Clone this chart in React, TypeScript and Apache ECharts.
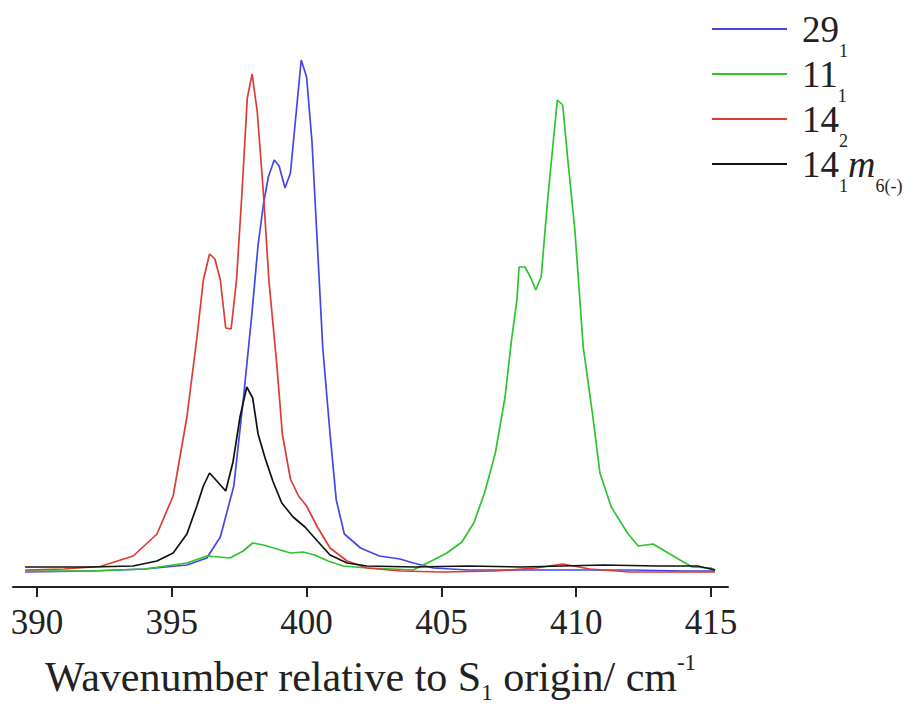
import React, { useEffect, useRef } from "react";
import * as echarts from "echarts";

// Wavenumber (cm-1) and intensity (arb. units)
const blueX = [389.56, 392, 394, 395.56, 396.3, 396.8, 397.3, 397.65, 397.97, 398.2, 398.4, 398.58, 398.8, 398.98, 399.2, 399.4, 399.57, 399.8, 400.0, 400.2, 400.4, 400.6, 400.87, 401.1, 401.4, 402.0, 402.7, 403.46, 403.96, 404.7, 406, 408, 410, 412, 414, 415.15];
const blueY = [15, 16, 18, 22, 29, 50, 101, 187, 273, 342, 383, 410, 427, 421, 399, 414, 462, 527, 510, 445, 342, 239, 153, 87, 53, 39, 31, 28, 24, 19, 17, 17, 17, 17, 16, 16];

const greenX = [389.56, 392, 394, 395.56, 396.3, 397.16, 397.65, 398.0, 398.4, 398.9, 399.4, 399.87, 400.3, 400.8, 401.35, 402.24, 403.2, 403.95, 404.7, 405.2, 405.76, 406.2, 406.6, 407.0, 407.36, 407.6, 407.8, 407.88, 408.1, 408.3, 408.5, 408.7, 408.95, 409.3, 409.5, 409.7, 409.95, 410.26, 410.6, 410.88, 411.3, 411.9, 412.3, 412.85, 413.35, 413.85, 414.3, 415.0, 415.15];
const greenY = [16, 16, 18, 24, 31, 29, 36, 44, 42, 38, 34, 35, 32, 26, 21, 19, 18, 17, 27, 34, 45, 64, 94, 134, 190, 247, 287, 320, 320, 310, 297, 310, 390, 487, 482, 424, 357, 240, 174, 114, 80, 54, 41, 43, 35, 27, 20, 19, 17];

const redX = [389.56, 391.0, 392.34, 393.57, 394.45, 395.05, 395.56, 395.93, 396.17, 396.4, 396.6, 396.8, 397.0, 397.2, 397.4, 397.6, 397.8, 397.98, 398.17, 398.4, 398.6, 398.9, 399.1, 399.4, 399.7, 400.0, 400.4, 400.87, 401.5, 402.24, 403.5, 405, 407, 408.5, 409.5, 410.5, 412, 414, 415.15];
const redY = [17, 18, 20.5, 31, 53, 91, 170, 249, 307, 333, 328, 307, 259, 258, 307, 393, 489, 513, 475, 393, 307, 221, 153, 108, 91, 81, 60, 39, 26, 19, 16, 15, 16, 19, 23, 18, 15, 15, 15];

const blackX = [389.56, 392, 393.56, 394.45, 395.05, 395.56, 395.93, 396.17, 396.4, 396.67, 397.0, 397.27, 397.53, 397.78, 398.0, 398.2, 398.46, 398.76, 399.08, 399.5, 399.94, 400.4, 400.87, 401.5, 402.24, 404, 406, 408, 409.5, 411, 413, 414.5, 415.15];
const blackY = [20, 20, 21, 26, 34, 53, 81, 101, 114, 106, 96, 125, 170, 200, 189, 153, 129, 105, 84, 70, 60, 46, 32, 24, 21, 20, 21, 20, 21, 22, 21, 21, 17];

const tickValues = [390, 395, 400, 405, 410, 415];
const seriesNames = ["29_1", "11_1", "14_2", "14_1m_6(-)"];
const legendLabels: Record<string, string> = {
  "29_1": "{f|29}{s|1}",
  "11_1": "{f|11}{s|1}",
  "14_2": "{f|14}{s|2}",
  "14_1m_6(-)": "{f|14}{s|1}{i|m}{s|6(-)}",
};
const colors = ["#4646e6", "#2ec42e", "#dc3c32", "#111111"];

const zip = (xs: number[], ys: number[]) => xs.map((x, i) => [x, ys[i]]);

export default function App() {
  const ref = useRef<HTMLDivElement>(null);
  useEffect(() => {
    if (!ref.current) return;
    const chart = echarts.init(ref.current, null, { renderer: "svg" });
    const serif = "Liberation Serif";
    const data = [zip(blueX, blueY), zip(greenX, greenY), zip(redX, redY), zip(blackX, blackY)];
    chart.setOption({
      animation: false,
      backgroundColor: "#ffffff",
      grid: { left: 13, right: 188, top: 47, bottom: 131, containLabel: false },
      legend: {
        orient: "vertical",
        left: 707,
        top: -7,
        itemWidth: 75,
        itemHeight: 2,
        itemGap: -17,
        icon: "rect",
        selectedMode: false,
        data: seriesNames,
        formatter: (name: string) => legendLabels[name],
        textStyle: {
          fontFamily: serif,
          color: "#222",
          rich: {
            f: { fontFamily: serif, fontSize: 37, lineHeight: 44, color: "#222", padding: [0, 0, 0, 10] },
            s: { fontFamily: serif, fontSize: 18, lineHeight: 18, color: "#222", padding: [44, 0, 0, 0] },
            i: { fontFamily: serif, fontSize: 38, lineHeight: 44, fontStyle: "italic", color: "#222" },
          },
        },
      },
      xAxis: {
        type: "value",
        min: 389.11,
        max: 415.63,
        name: "{n|Wavenumber relative to S}{s|1}{n| origin/ cm}{p|-1}",
        nameLocation: "middle",
        nameGap: 66,
        nameTextStyle: {
          fontFamily: serif,
          color: "#222",
          rich: {
            n: { fontFamily: serif, fontSize: 42, lineHeight: 48, color: "#222" },
            s: { fontFamily: serif, fontSize: 23, lineHeight: 23, color: "#222", padding: [30, 0, 0, 0] },
            p: { fontFamily: serif, fontSize: 23, lineHeight: 23, color: "#222", padding: [0, 0, 30, 0] },
          },
        },
        axisLine: { show: true, onZero: false, lineStyle: { color: "#222", width: 2 } },
        axisTick: { show: true, customValues: tickValues, length: 10, lineStyle: { color: "#222", width: 2 } },
        axisLabel: { show: true, customValues: tickValues, margin: 18, fontFamily: serif, fontSize: 35, color: "#222" },
        splitLine: { show: false },
      },
      yAxis: {
        type: "value",
        min: 0,
        max: 540,
        show: false,
      },
      series: seriesNames.map((name, i) => ({
        name,
        type: "line",
        data: data[i],
        showSymbol: false,
        symbol: "none",
        color: colors[i],
        lineStyle: { color: colors[i], width: 1.7 },
        z: 2 + i,
      })),
    });
    return () => chart.dispose();
  }, []);
  return (
    <div
      ref={ref}
      style={{ position: "absolute", left: 0, top: 0, width: 916, height: 718 }}
    />
  );
}
